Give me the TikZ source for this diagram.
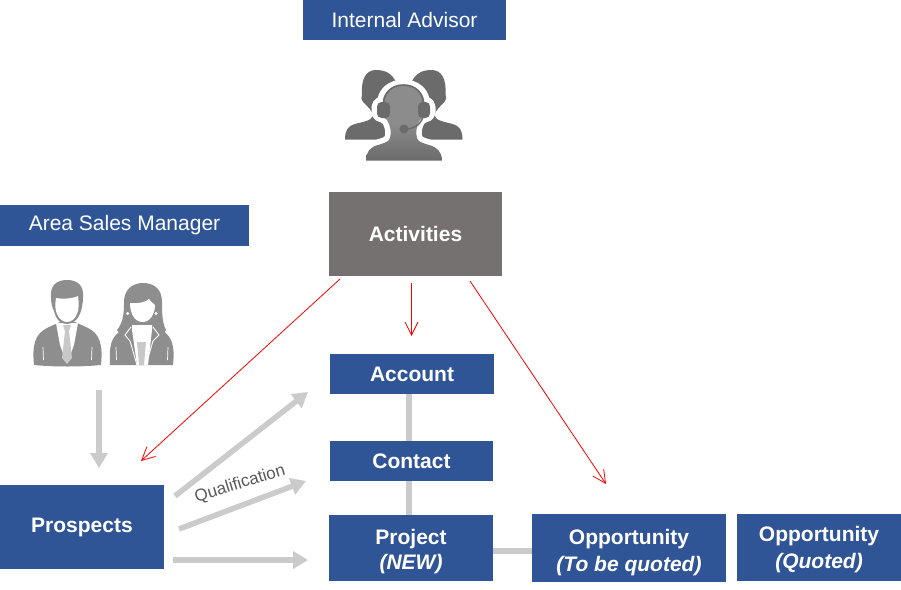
\documentclass[tikz,border=0pt]{standalone}
\usepackage{fontspec}
\setmainfont{Liberation Sans}
\usetikzlibrary{arrows.meta}
\definecolor{boxblue}{HTML}{2F5597}
\definecolor{boxgrey}{HTML}{767171}
\definecolor{linegrey}{HTML}{CBCBCB}
\definecolor{iconA}{HTML}{6B6B6B}
\definecolor{iconB}{HTML}{8C8C8C}
\definecolor{iconC}{HTML}{8E8E8E}
\definecolor{tiegrey}{HTML}{C8C8C8}
\tikzset{
  x=1pt,y=-1pt,
  box/.style={fill=boxblue,text=white,inner sep=0pt,outer sep=0pt,align=center,font=\fontsize{21}{24}\selectfont\bfseries},
  rolebox/.style={box,font=\fontsize{21}{24}\selectfont},
  link/.style={draw=linegrey,line width=5.5pt},
  bigarrow/.style={draw=linegrey,line width=5.5pt,-{Triangle[length=15pt,width=17pt]}},
  redarrow/.style={draw=red,line width=0.8pt,-{Straight Barb[length=13pt,width=13pt,line width=0.8pt]}},
}
\newcommand{\boxat}[7]{\node[#1,minimum width=#4 pt-#3 pt,minimum height=#6 pt-#5 pt,anchor=north west] (#2) at (#3,#5) {#7};}
\begin{document}
\begin{tikzpicture}
\useasboundingbox (0,0) rectangle (901,589);
\fill[white] (0,0) rectangle (901,589);

% boxes
\boxat{rolebox}{advisor}{303}{506}{0}{40}{Internal Advisor}
\boxat{rolebox}{manager}{0}{249}{205}{246}{\raisebox{-2pt}{Area Sales Manager}}
\node[box,fill=boxgrey,minimum width=173pt,minimum height=84pt,anchor=north west] (activities) at (329,192) {Activities};
\boxat{box}{account}{330}{494}{354}{394}{Account}
\boxat{box}{contact}{330}{493}{441}{481}{Contact}
\boxat{box}{project}{329}{493}{515}{581}{\rule{0pt}{21.5pt}Project\\[1pt]{\itshape (NEW)}}
\boxat{box}{opptq}{532}{726}{514}{582}{\rule{0pt}{23.5pt}Opportunity\\[3pt]{\itshape (To be quoted)}}
\boxat{box}{oppq}{737}{901}{514}{581}{\rule{0pt}{19.5pt}Opportunity\\[3pt]{\itshape (Quoted)}}
\boxat{box}{prospects}{0}{164}{485}{569}{Prospects}

% grey links
\draw[link] (account.south -| 409,0) -- (contact.north -| 409,0);
\draw[link] (contact.south -| 409,0) -- (project.north -| 409,0);
\draw[link] (project.east |- 0,551) -- (opptq.west |- 0,551);

% grey arrows
\coordinate (mgrS) at (99,390);
\coordinate (mgrE) at (99,468);
\coordinate (q1s) at (175,496);
\coordinate (q1e) at (308,392);
\coordinate (q2s) at (179,529);
\coordinate (q2e) at (306,481);
\coordinate (q3s) at (173,560);
\coordinate (q3e) at (308,560);
\draw[bigarrow] (mgrS) -- (mgrE);
\draw[bigarrow] (q1s) -- (q1e);
\draw[bigarrow] (q2s) -- (q2e);
\draw[bigarrow] (q3s) -- (q3e);
\node[rotate=17,text=black!65,font=\fontsize{17}{20}\selectfont,inner sep=0pt] (qual) at (240,484) {Qualification};

% red arrows
\coordinate (r1s) at (340,279);
\coordinate (r1e) at (141,461);
\coordinate (r2s) at (411.5,283);
\coordinate (r2e) at (411.5,336);
\coordinate (r3s) at (470,281);
\coordinate (r3e) at (606,484);
\draw[redarrow] (r1s) -- (r1e);
\draw[redarrow] (r2s) -- (r2e);
\draw[redarrow] (r3s) -- (r3e);

% headset group icon
\def\backfig{(345,139.5) .. controls (345,130) and (348,126) .. (355,124)
  .. controls (362,122) and (371,121) .. (373,116) .. controls (373,111) and (367,106) .. (363,102)
  .. controls (361,100) and (361,97) .. (362,94)
  .. controls (361,79) and (366,70) .. (376,70)
  .. controls (386,70) and (392,74) .. (396,82) -- (396,139.5) -- cycle}
\fill[iconA] \backfig;
\fill[iconA,xscale=-1,xshift=-807.5pt] \backfig;
\def\frontfig{(366,160.5) .. controls (366,152) and (370,147) .. (378,145)
  .. controls (384,143) and (389,142) .. (390,138) .. controls (392,132) and (390,125) .. (387,120)
  -- (383,117) -- (383,100)
  .. controls (384,92) and (392,85) .. (403.5,85)
  .. controls (415,85) and (423,92) .. (424,100)
  -- (424,117) -- (420,120) .. controls (417,125) and (415,132) .. (417,138)
  .. controls (418,142) and (423,143) .. (429,145)
  .. controls (437,147) and (442,152) .. (442,160.5) -- cycle}
\begin{scope}
\draw[white,line width=11pt,line join=round] \frontfig;
\draw[white,line width=11pt,line join=round,rounded corners=5pt] (377,102) rectangle (430,117);
\end{scope}
\fill[white] (340,140) rectangle (362,164);
\fill[white] (445,140) rectangle (468,164);
\fill[white] (362,155) rectangle (445,164);
\shade[top color=iconB,bottom color=iconA,middle color=iconB] \frontfig;
\draw[iconA,line width=1.6pt] (383,108) .. controls (383,92) and (392,85) .. (403.5,85) .. controls (415,85) and (424,92) .. (424,108);
\fill[iconA,rounded corners=4.5pt] (377,102) rectangle (390,118);
\fill[iconA,rounded corners=4.5pt] (418,102) rectangle (430,118);
\draw[iconA,line width=1.4pt] (405,129) .. controls (413,129) and (420,126) .. (423,117);
\fill[iconA] (404,129) circle[radius=4.5];

% man icon
\fill[iconC] (34,365) .. controls (32,345) and (35,334) .. (47,328) -- (60,322) -- (75,322) -- (88,328)
  .. controls (100,334) and (103,345) .. (101,365) .. controls (80,367) and (55,367) .. (34,365) -- cycle;
\fill[white] (56,323) -- (78,323) -- (74,345) -- (67,364) -- (60,345) -- cycle;
\fill[tiegrey] (63,325) -- (71,325) -- (69,331) -- (72,358) -- (67,364) -- (62,358) -- (65,331) -- cycle;
\fill[iconC] (51,297) .. controls (50,286) and (56,280) .. (67,280) .. controls (78,280) and (84,286) .. (83,297)
  .. controls (83,303) and (82,307) .. (81,311) .. controls (78,320) and (73,324) .. (67,324) .. controls (61,324) and (56,320) .. (54,311) .. controls (52,307) and (51,303) .. (51,297) -- cycle;
\fill[white] (56,298) .. controls (62,299) and (72,299) .. (78,296) .. controls (79,303) and (79,310) .. (77,314)
  .. controls (75,319) and (71,322) .. (67,322) .. controls (63,322) and (59,319) .. (57,314) .. controls (55,310) and (55,304) .. (56,298) -- cycle;

% woman icon
\fill[iconC] (117,330) .. controls (124,322) and (124,310) .. (124,302) .. controls (124,290) and (132,283) .. (143,283)
  .. controls (155,283) and (162,290) .. (162,302) .. controls (162,312) and (162,322) .. (166,330) -- (160,340) -- (125,340) -- cycle;
\fill[iconC] (110,365) .. controls (109,345) and (111,337) .. (122,330) -- (162,330) .. controls (172,337) and (175,345) .. (173,365) -- cycle;
\fill[white] (132,325) -- (152,325) -- (152,330) -- (148,365) -- (137,365) -- (132,330) -- cycle;
\fill[tiegrey] (137,342) -- (146,342) -- (144,365) -- (139,365) -- cycle;
\fill[iconC] (131,320) -- (153,320) -- (146,324) -- (138,324) -- cycle;
\draw[white,line width=0.9pt,line join=miter] (131,327) -- (125,335) -- (130,341) -- (137,365);
\draw[white,line width=0.9pt,line join=miter] (153,327) -- (159,335) -- (153,341) -- (146,365);
\fill[white] (130,303) .. controls (138,304) and (146,302) .. (149,299) .. controls (151,302) and (154,304) .. (155,305)
  .. controls (155,314) and (150,322) .. (142.5,322) .. controls (135,322) and (130,314) .. (130,303) -- cycle;
\fill[iconC] (128,313.5) circle[radius=2.5];
\fill[iconC] (156,313.5) circle[radius=2.5];
\fill[white] (127.8,313.5) circle[radius=1.6];
\fill[white] (156,313.5) circle[radius=1.6];
\draw[white,line width=0.7pt] (116,347) -- (116.5,360);
\draw[white,line width=0.7pt] (168,347) -- (167.5,360);
\draw[white,line width=0.7pt] (43,347) -- (43.5,360);
\draw[white,line width=0.7pt] (92,347) -- (91.5,360);
\end{tikzpicture}
\end{document}
